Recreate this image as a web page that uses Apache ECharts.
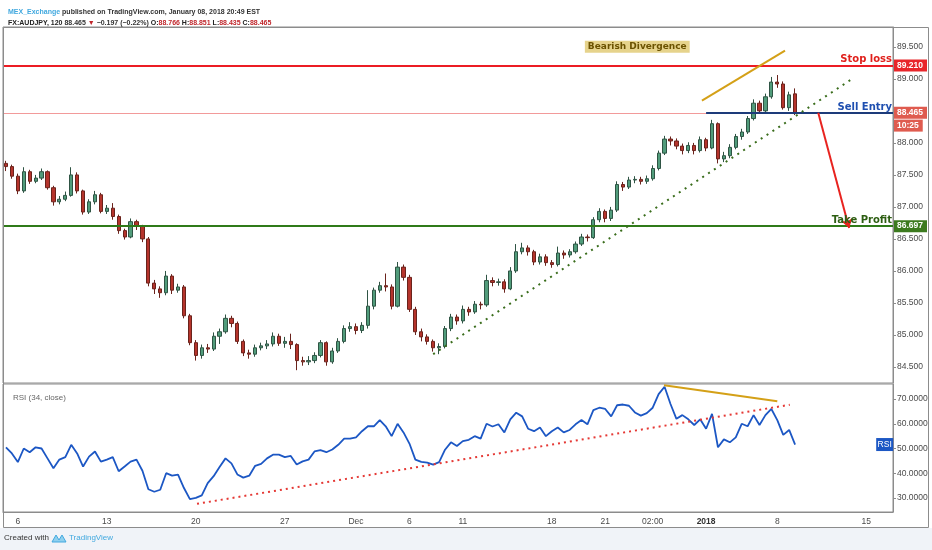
<!DOCTYPE html>
<html>
<head>
<meta charset="utf-8">
<script src="https://cdn.jsdelivr.net/npm/echarts@6/dist/echarts.min.js"></script>
<style>
html, body { margin: 0; padding: 0; background: #fff; }
#my { width: 932px; height: 550px; }
</style>
</head>
<body>
<div id="my"></div>
<script>
// 2h candles, one slot per candle: [open, close, low, high]
var candles = [
	[87.68, 87.63, 87.56, 87.72], [87.63, 87.48, 87.44, 87.66], [87.48, 87.25, 87.20, 87.52], [87.25, 87.55, 87.22, 87.62],
	[87.55, 87.40, 87.36, 87.58], [87.40, 87.45, 87.37, 87.50], [87.45, 87.55, 87.42, 87.60], [87.55, 87.30, 87.27, 87.57],
	[87.30, 87.08, 87.02, 87.33], [87.08, 87.12, 87.04, 87.17], [87.12, 87.18, 87.09, 87.24], [87.18, 87.50, 87.16, 87.62],
	[87.50, 87.25, 87.21, 87.54], [87.25, 86.92, 86.88, 87.27], [86.92, 87.08, 86.89, 87.12], [87.08, 87.19, 87.04, 87.25],
	[87.19, 86.93, 86.90, 87.22], [86.93, 86.98, 86.89, 87.03], [86.98, 86.85, 86.80, 87.06], [86.85, 86.63, 86.58, 86.88],
	[86.63, 86.53, 86.49, 86.66], [86.53, 86.77, 86.51, 86.82], [86.77, 86.70, 86.64, 86.80], [86.70, 86.50, 86.45, 86.72],
	[86.50, 85.81, 85.76, 86.53], [85.81, 85.72, 85.64, 85.86], [85.72, 85.66, 85.58, 85.76], [85.66, 85.92, 85.62, 86.00],
	[85.92, 85.70, 85.64, 85.95], [85.70, 85.75, 85.66, 85.80], [85.75, 85.30, 85.26, 85.78], [85.30, 84.88, 84.84, 85.33],
	[84.88, 84.68, 84.60, 84.92], [84.68, 84.80, 84.63, 84.85], [84.80, 84.78, 84.72, 84.86], [84.78, 84.98, 84.75, 85.04],
	[84.98, 85.05, 84.86, 85.10], [85.05, 85.26, 85.02, 85.32], [85.26, 85.18, 85.12, 85.30], [85.18, 84.90, 84.86, 85.21],
	[84.90, 84.72, 84.67, 84.93], [84.72, 84.70, 84.63, 84.77], [84.70, 84.80, 84.66, 84.85], [84.80, 84.83, 84.76, 84.88],
	[84.83, 84.86, 84.78, 84.92], [84.86, 84.98, 84.82, 85.04], [84.98, 84.87, 84.83, 85.02], [84.87, 84.90, 84.80, 84.97],
	[84.90, 84.85, 84.78, 85.02], [84.85, 84.60, 84.45, 84.87], [84.60, 84.58, 84.52, 84.66], [84.58, 84.60, 84.53, 84.67],
	[84.60, 84.68, 84.56, 84.73], [84.68, 84.88, 84.65, 84.92], [84.88, 84.58, 84.52, 84.90], [84.58, 84.75, 84.55, 84.80],
	[84.75, 84.90, 84.72, 84.95], [84.90, 85.10, 84.87, 85.15], [85.10, 85.13, 85.05, 85.20], [85.13, 85.07, 85.01, 85.18],
	[85.07, 85.15, 85.03, 85.20], [85.15, 85.45, 85.10, 85.70], [85.45, 85.70, 85.40, 85.74], [85.70, 85.77, 85.66, 85.83],
	[85.77, 85.75, 85.68, 85.96], [85.75, 85.45, 85.40, 85.79], [85.45, 86.06, 85.43, 86.14], [86.06, 85.90, 85.85, 86.10],
	[85.90, 85.40, 85.36, 85.94], [85.40, 85.05, 85.00, 85.44], [85.05, 84.97, 84.90, 85.10], [84.97, 84.90, 84.85, 85.01],
	[84.90, 84.80, 84.74, 84.93], [84.80, 84.82, 84.70, 84.87], [84.82, 85.10, 84.79, 85.14], [85.10, 85.28, 85.06, 85.33],
	[85.28, 85.22, 85.16, 85.32], [85.22, 85.40, 85.18, 85.46], [85.40, 85.36, 85.30, 85.44], [85.36, 85.48, 85.33, 85.53],
	[85.48, 85.47, 85.40, 85.52], [85.47, 85.85, 85.44, 85.94], [85.85, 85.82, 85.76, 85.90], [85.82, 85.83, 85.77, 85.88],
	[85.83, 85.72, 85.66, 85.87], [85.72, 86.00, 85.70, 86.06], [86.00, 86.30, 85.97, 86.42], [86.30, 86.36, 86.26, 86.44],
	[86.36, 86.30, 86.24, 86.40], [86.30, 86.14, 86.09, 86.33], [86.14, 86.22, 86.10, 86.27], [86.22, 86.13, 86.08, 86.26],
	[86.13, 86.10, 86.05, 86.17], [86.10, 86.28, 86.07, 86.38], [86.28, 86.25, 86.19, 86.32], [86.25, 86.30, 86.21, 86.34],
	[86.30, 86.42, 86.27, 86.46], [86.42, 86.53, 86.39, 86.58], [86.53, 86.52, 86.46, 86.57], [86.52, 86.80, 86.50, 86.84],
	[86.80, 86.93, 86.76, 86.98], [86.93, 86.82, 86.76, 86.96], [86.82, 86.95, 86.78, 87.00], [86.95, 87.35, 86.92, 87.40],
	[87.35, 87.31, 87.25, 87.39], [87.31, 87.42, 87.28, 87.47], [87.42, 87.43, 87.37, 87.48], [87.43, 87.40, 87.35, 87.47],
	[87.40, 87.44, 87.36, 87.49], [87.44, 87.60, 87.41, 87.65], [87.60, 87.84, 87.57, 87.88], [87.84, 88.06, 87.81, 88.11],
	[88.06, 88.03, 87.96, 88.10], [88.03, 87.95, 87.90, 88.07], [87.95, 87.88, 87.82, 87.99], [87.88, 87.96, 87.84, 88.01],
	[87.96, 87.88, 87.82, 88.00], [87.88, 88.05, 87.85, 88.10], [88.05, 87.92, 87.87, 88.08], [87.92, 88.30, 87.90, 88.36],
	[88.30, 87.75, 87.68, 88.32], [87.75, 87.80, 87.70, 87.86], [87.80, 87.93, 87.76, 87.98], [87.93, 88.10, 87.90, 88.14],
	[88.10, 88.17, 88.05, 88.22], [88.17, 88.38, 88.14, 88.42], [88.38, 88.62, 88.35, 88.68], [88.62, 88.50, 88.46, 88.66],
	[88.50, 88.72, 88.47, 88.77], [88.72, 88.95, 88.69, 89.03], [88.95, 88.92, 88.86, 89.06], [88.92, 88.55, 88.52, 88.96],
	[88.55, 88.75, 88.50, 88.80], [88.766, 88.465, 88.435, 88.851]
];

// RSI(34) per slot
var rsi = [
	50.5, 48, 44.5, 50, 48.5, 50.5, 50, 46, 42, 45.5, 46.5, 51.5, 48, 42.7, 46.7, 48.8, 44.7, 45.5, 46.5, 40.8,
	42.7, 44.7, 45.5, 41, 33.5, 32.5, 33.3, 40, 39, 39.4, 34, 29.5, 30, 31, 36, 38.8, 42.5, 46, 44, 39.5,
	38.2, 39, 43, 43.8, 46, 47.5, 47.5, 46.5, 47, 43.5, 44.8, 45.5, 48.8, 49.3, 48.5, 49.6, 51.5, 54, 54, 54.5,
	57, 59, 59, 61.5, 59, 55, 60, 56.5, 52, 45.5, 44.6, 44.3, 43.5, 44.5, 49.5, 52.5, 51, 53, 53.5, 55,
	54, 60, 58.9, 59.8, 56.5, 61.8, 64.5, 63, 58, 57, 58.5, 55, 57, 58.5, 56.5, 57.5, 59.8, 61.5, 59.8, 65.5,
	66.5, 66, 63, 67.5, 67.8, 67.3, 64.6, 63.3, 64.3, 66.5, 72, 75, 68, 62, 63.5, 61.8, 59.5, 61.8, 58, 64,
	50.5, 53.7, 52.5, 54.5, 60, 59, 63.5, 59.5, 63.5, 66, 61.5, 55.5, 57.5, 51.6
];

var slotCount = 150;
var tickIdx = [2, 17, 32, 47, 59, 68, 77, 92, 101, 109, 118, 130, 145];
var tickText = ['6', '13', '20', '27', 'Dec', '6', '11', '18', '21', '02:00', '2018', '8', '15'];

var stopLoss = 89.210;
var sellEntry = 88.465;
var takeProfit = 86.697;
var sellStart = 118;
var lastRsi = 51.6;

// drawn lines: [slot, value]
var priceTrend = [[72.0, 84.70], [142.3, 88.98]];
var priceDiv = [[117.3, 88.66], [131.3, 89.44]];
var sellArrow = [[136.9, 88.47], [142.1, 86.67]];
var rsiTrend = [[32.2, 27.6], [132.1, 67.7]];
var rsiDiv = [[110.9, 75.6], [130.0, 69.1]];

var categories = [];
for (var i = 0; i < slotCount; i++) categories.push(String(i));

var myChart = echarts.init(document.getElementById('my'));

var axisFont = { fontFamily: 'Liberation Sans', fontSize: 8.5, color: '#4a4a4a' };
var tagLabel = function(text, bg) {
	return {
		show: true, position: 'end', distance: 1, formatter: text,
		color: '#fff', backgroundColor: bg, padding: [2, 4, 1, 3],
		fontFamily: 'Liberation Sans', fontSize: 8.5, fontWeight: 'bold'
	};
};
var lineLabel = function(text, color) {
	return {
		show: true, position: 'insideEndTop', distance: 1, formatter: text,
		color: color, fontFamily: 'DejaVu Sans', fontSize: 10, fontWeight: 'bold'
	};
};
var hidden = { color: 'rgba(0,0,0,0)' };

var option = {
	animation: false,
	backgroundColor: '#fff',
	title: [{
		left: 3, top: 2,
		text: '{l|MEX_Exchange}{t| published on TradingView.com, January 08, 2018 20:49 EST}\n' +
			'{b|FX:AUDJPY, 120}{t| 88.465 }{r|▼}{t| −0.197 (−0.22%) }{b|O:}{r|88.766}{b| H:}{r|88.851}{b| L:}{r|88.435}{b| C:}{r|88.465}',
		textStyle: {
			rich: {
				l: { color: '#42a9df', fontSize: 7, fontFamily: 'Liberation Sans', lineHeight: 11 },
				t: { color: '#333', fontSize: 7, fontFamily: 'Liberation Sans', lineHeight: 11 },
				b: { color: '#222', fontSize: 7, fontFamily: 'Liberation Sans', fontWeight: 'bold', lineHeight: 11 },
				r: { color: '#c0262b', fontSize: 7, fontFamily: 'Liberation Sans', lineHeight: 11 }
			}
		}
	}, {
		left: 8, top: 389,
		text: 'RSI (34, close)',
		textStyle: { color: '#666', fontSize: 8, fontWeight: 'normal', fontFamily: 'Liberation Sans' }
	}],
	graphic: [
		{ type: 'rect', left: 0, top: 528, shape: { width: 932, height: 22 }, style: { fill: '#f0f3f8' }, z: -1 },
		{ type: 'rect', shape: { x: 3.5, y: 27.5, width: 925, height: 500 }, style: { fill: 'none', stroke: '#8c8c8c', lineWidth: 1 }, z: 10 },
		{ type: 'text', left: 4, top: 534, style: { text: 'Created with', fill: '#333', font: '8px "Liberation Sans"' } },
		{ type: 'polygon', shape: { points: [[52, 542], [56, 535], [59, 540], [62, 535], [66, 542]] }, style: { fill: '#8fd0ef', stroke: '#42a9df', lineWidth: 1 } },
		{ type: 'text', left: 69, top: 534, style: { text: 'TradingView', fill: '#42a9df', font: '8px "Liberation Sans"' } }
	],
	grid: [
		{ left: 3, right: 39, top: 27, height: 356, show: true, borderColor: '#8c8c8c', borderWidth: 1 },
		{ left: 3, right: 39, top: 384, height: 128, show: true, borderColor: '#8c8c8c', borderWidth: 1 }
	],
	xAxis: [
		{ type: 'category', gridIndex: 0, data: categories, boundaryGap: true,
			axisLine: { show: false, onZero: false }, axisTick: { show: false }, axisLabel: { show: false }, splitLine: { show: false } },
		{ type: 'category', gridIndex: 1, data: categories, boundaryGap: true,
			axisLine: { onZero: false, lineStyle: { color: '#8c8c8c' } },
			axisTick: { alignWithLabel: true, length: 3, lineStyle: { color: '#8c8c8c' },
				interval: function(idx) { return tickIdx.indexOf(idx) >= 0; } },
			axisLabel: {
				interval: function(idx) { return tickIdx.indexOf(idx) >= 0; },
				margin: 5, fontFamily: 'Liberation Sans', fontSize: 8.5, color: '#4a4a4a',
				formatter: function(v, idx) {
					var k = tickIdx.indexOf(idx);
					if (k < 0) return '';
					return tickText[k] === '2018' ? '{b|2018}' : tickText[k];
				},
				rich: { b: { fontWeight: 'bold', fontFamily: 'Liberation Sans', fontSize: 8.5, color: '#333' } }
			},
			splitLine: { show: false } },
		{ type: 'value', gridIndex: 0, min: -0.5, max: slotCount - 0.5, show: false, axisLine: { onZero: false } },
		{ type: 'value', gridIndex: 1, min: -0.5, max: slotCount - 0.5, show: false, axisLine: { onZero: false } }
	],
	yAxis: [
		{ type: 'value', gridIndex: 0, position: 'right', min: 84.25, max: 89.81, splitNumber: 11, scale: true,
			axisLine: { show: true, onZero: false, lineStyle: { color: '#8c8c8c' } },
			axisTick: { show: true, length: 3, lineStyle: { color: '#8c8c8c' } },
			splitLine: { show: false },
			axisLabel: Object.assign({ margin: 4, showMinLabel: false, showMaxLabel: false,
				formatter: function(v) { return v.toFixed(3); } }, axisFont) },
		{ type: 'value', gridIndex: 1, position: 'right', min: 24.3, max: 76.1, splitNumber: 5,
			axisLine: { show: true, onZero: false, lineStyle: { color: '#8c8c8c' } },
			axisTick: { show: true, length: 3, lineStyle: { color: '#8c8c8c' } },
			splitLine: { show: false },
			axisLabel: Object.assign({ margin: 4, showMinLabel: false, showMaxLabel: false,
				formatter: function(v) { return v.toFixed(4); } }, axisFont) }
	],
	series: [
		{
			name: 'AUDJPY', type: 'candlestick', xAxisIndex: 0, yAxisIndex: 0,
			data: candles, barWidth: '62%',
			itemStyle: { color: '#519c7b', color0: '#b5342c', borderColor: '#2f5444', borderColor0: '#6a231c', borderWidth: 1 }
		},
		{
			name: 'levels', type: 'line', xAxisIndex: 2, yAxisIndex: 0,
			data: priceDiv, symbol: 'none', z: 5,
			lineStyle: { color: '#d4a017', width: 2 },
			markLine: {
				silent: true, symbol: ['none', 'none'], animation: false,
				data: [
					{ yAxis: sellEntry, lineStyle: { color: '#f29a9a', width: 1, type: 'solid' }, label: { show: false } },
					{ yAxis: stopLoss, lineStyle: { color: '#ec1c24', width: 2, type: 'solid' }, label: lineLabel('Stop loss', '#e0201b') },
					{ yAxis: stopLoss, lineStyle: hidden, label: tagLabel('89.210', '#e8262b') },
					{ yAxis: takeProfit, lineStyle: { color: '#2f7a19', width: 2, type: 'solid' }, label: lineLabel('Take Profit', '#2d5e12') },
					{ yAxis: takeProfit, lineStyle: hidden, label: tagLabel('86.697', '#3c7a1f') },
					[{ coord: [sellStart, sellEntry], lineStyle: { color: '#1d3b7a', width: 2, type: 'solid' }, label: lineLabel('Sell Entry', '#1f4fb0') },
						{ coord: [slotCount - 0.5, sellEntry] }],
					{ yAxis: sellEntry, lineStyle: hidden, label: tagLabel('88.465', '#df5b4f') },
					{ yAxis: sellEntry - 0.2, lineStyle: hidden, label: tagLabel('10:25', '#df5b4f') },
					[{ coord: sellArrow[0], symbol: 'none', lineStyle: { color: '#e8231f', width: 2, type: 'solid' }, label: { show: false } },
						{ coord: sellArrow[1], symbol: 'arrow', symbolSize: 9 }]
				]
			},
			markPoint: {
				silent: true, symbol: 'rect', symbolSize: 0,
				data: [{ coord: [106.4, 89.5], label: {
					show: true, formatter: 'Bearish Divergence', position: 'inside',
					color: '#6b5200', backgroundColor: '#e6d38c', padding: [2, 3, 1, 3],
					fontFamily: 'DejaVu Sans', fontSize: 9, fontWeight: 'bold' } }]
			}
		},
		{
			name: 'trend', type: 'line', xAxisIndex: 2, yAxisIndex: 0,
			data: priceTrend, symbol: 'none', z: 5,
			lineStyle: { color: '#3a6d1c', width: 2, type: [2, 5] }
		},
		{
			name: 'RSI', type: 'line', xAxisIndex: 1, yAxisIndex: 1,
			data: rsi, symbol: 'none', z: 4,
			lineStyle: { color: '#1c57c4', width: 1.8 }
		},
		{
			name: 'rsiTrend', type: 'line', xAxisIndex: 3, yAxisIndex: 1,
			data: rsiTrend, symbol: 'none', z: 5,
			lineStyle: { color: '#e53935', width: 2, type: [2, 4] }
		},
		{
			name: 'rsiDiv', type: 'line', xAxisIndex: 3, yAxisIndex: 1,
			data: rsiDiv, symbol: 'none', z: 5,
			lineStyle: { color: '#d4a017', width: 2 },
			markPoint: {
				silent: true, symbol: 'rect', symbolSize: [17, 13],
				itemStyle: { color: '#1c57c4' },
				data: [{ coord: [148.1, lastRsi], label: {
					show: true, formatter: 'RSI', position: 'inside', color: '#fff',
					fontFamily: 'Liberation Sans', fontSize: 8.5 } }]
			}
		}
	]
};

myChart.setOption(option);
</script>
</body>
</html>
